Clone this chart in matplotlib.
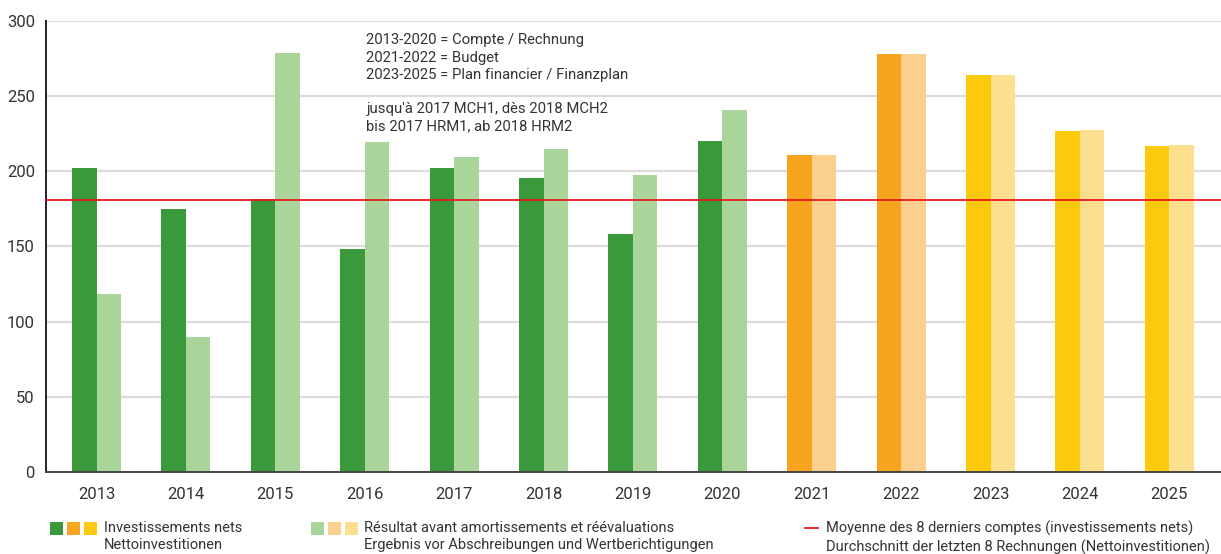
import matplotlib.pyplot as plt
from matplotlib.patches import Rectangle
from matplotlib.lines import Line2D
import numpy as np

plt.rcParams['font.family'] = ['Roboto', 'DejaVu Sans']

# data
years = ['2013', '2014', '2015', '2016', '2017', '2018', '2019',
         '2020', '2021', '2022', '2023', '2024', '2025']
invest_nets = [202, 174.5, 181.5, 148.5, 202, 195.5, 158, 220,
               210.5, 278, 264, 226.5, 216.5]
resultat = [118.5, 90, 278.5, 219.5, 209.5, 214.5, 197.5, 240.5,
            210.5, 278, 264, 227.5, 217.5]
moyenne = 180.5

# colours per period: compte / budget / plan financier
dark_cols = ['#3a9a3b'] * 8 + ['#f7a51e'] * 2 + ['#fdc90c'] * 3
light_cols = ['#a9d59b'] * 8 + ['#fbcf8d'] * 2 + ['#fde08f'] * 3

fig = plt.figure(figsize=(12.21, 5.54), dpi=100)
ax = fig.add_axes([46 / 1221, 1 - 472 / 554, 1 - 46 / 1221, (472 - 20.7) / 554])

x = np.arange(len(years))
w = 0.274
ax.bar(x - w / 2, invest_nets, width=w, color=dark_cols, zorder=2)
ax.bar(x + w / 2, resultat, width=w, color=light_cols, zorder=2)
ax.axhline(moyenne, color='#e8191e', lw=1.3, zorder=3)

ax.set_xlim(-0.565, 12.578)
ax.set_ylim(0, 300)
ax.set_yticks(range(0, 301, 50))
ax.set_xticks(x)
ax.set_xticklabels(years)
ax.yaxis.grid(True, color='#dcdcdc', lw=1.6, zorder=0)
ax.set_axisbelow(True)
ax.tick_params(axis='both', length=0, labelsize=12, colors='#333333')
ax.tick_params(axis='x', pad=11)
ax.tick_params(axis='y', pad=8)
for s in ['top', 'right']:
    ax.spines[s].set_visible(False)
ax.spines['left'].set_color('#222222')
ax.spines['left'].set_linewidth(1.4)
ax.spines['bottom'].set_color('#444444')
ax.spines['bottom'].set_linewidth(1.4)

# notes in the plot
note1 = '2013-2020 = Compte / Rechnung\n2021-2022 = Budget\n2023-2025 = Plan financier / Finanzplan'
note2 = "jusqu'à 2017 MCH1, dès 2018 MCH2\nbis 2017 HRM1, ab 2018 HRM2"
fig.text(366 / 1221, 1 - 33 / 554, note1, fontsize=10.7, color='#333333',
         va='top', linespacing=1.32)
fig.text(366 / 1221, 1 - 102 / 554, note2, fontsize=10.7, color='#333333',
         va='top', linespacing=1.32)

# legend drawn by hand
W, H = 1221, 554
def square(px, col):
    fig.add_artist(Rectangle((px / W, 1 - 535 / H), 13 / W, 13 / H,
                             transform=fig.transFigure, color=col, lw=0))

for px, col in zip([50, 67, 84], ['#3a9a3b', '#f7a51e', '#fdc90c']):
    square(px, col)
for px, col in zip([311, 328, 345], ['#a9d59b', '#fbcf8d', '#fde08f']):
    square(px, col)
fig.add_artist(Line2D([805 / W, 818 / W], [1 - 528 / H, 1 - 528 / H],
                      transform=fig.transFigure, color='#e8191e', lw=1.3))

leg_kw = dict(fontsize=10.5, color='#333333', va='top', linespacing=1.28)
fig.text(104 / W, 1 - 521 / H, 'Investissements nets\nNettoinvestitionen', **leg_kw)
fig.text(364 / W, 1 - 521 / H,
         'Résultat avant amortissements et réévaluations\nErgebnis vor Abschreibungen und Wertberichtigungen',
         **leg_kw)
fig.text(826 / W, 1 - 521 / H,
         'Moyenne des 8 derniers comptes (investissements nets)\nDurchschnitt der letzten 8 Rechnungen (Nettoinvestitionen)',
         **leg_kw)

fig.savefig('out.png', dpi=100)
